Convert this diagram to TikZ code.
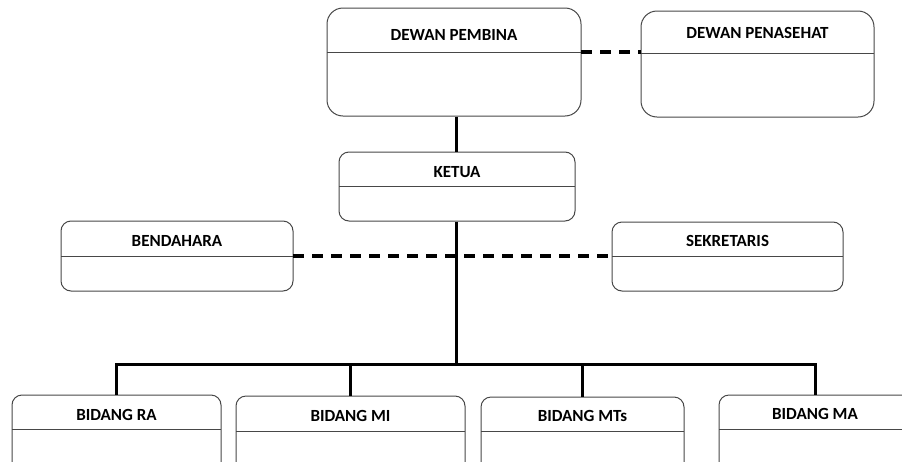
\documentclass[tikz,border=0pt]{standalone}
\usepackage{fontspec}
\setmainfont{Carlito}
% #1 extra style, #2 name, #3-#6 corners (x1,y1,x2,y2), #7 divider y, #8 title y, #9 title
\newcommand\orgbox[9]{%
  \pgfmathsetmacro\bw{#5-#3}%
  \pgfmathsetmacro\bh{#6-#4}%
  \node[box,#1,minimum width=\bw pt,minimum height=\bh pt] (#2) at ({(#3+#5)/2},{(#4+#6)/2}) {};
  \coordinate (#2-dl) at (#3,#7);
  \coordinate (#2-dr) at (#5,#7);
  \draw[divider] (#2-dl) -- (#2-dr);
  \node[title] (#2-t) at ({(#3+#5)/2},#8) {#9};
}
\begin{document}
\begin{tikzpicture}[x=1pt,y=-1pt,
  box/.style={draw=black!72,line width=1pt,rounded corners=10pt,inner sep=0pt,fill=white},
  bigbox/.style={rounded corners=16pt},
  divider/.style={draw=black!72,line width=1pt},
  title/.style={font=\bfseries\fontsize{17}{20}\selectfont,inner sep=0pt,anchor=center},
  link/.style={line width=3pt},
  dlink/.style={line width=3.2pt,dash pattern=on 11pt off 8pt}]
\useasboundingbox (0,0) rectangle (902,461);
\clip (0,0) rectangle (902,461);

% board boxes
\orgbox{bigbox}{pembina}{327}{8}{581}{116}{52}{35}{DEWAN PEMBINA}
\orgbox{bigbox}{penasehat}{641}{11}{874}{117}{53}{33}{DEWAN PENASEHAT}
% chair, treasurer, secretary
\orgbox{}{ketua}{339}{152}{575}{221}{186}{172}{KETUA}
\orgbox{}{bendahara}{61}{221}{293}{291}{256}{240.5}{BENDAHARA}
\orgbox{}{sekretaris}{612}{222}{843}{291}{256}{241}{SEKRETARIS}
% departments
\orgbox{}{ra}{12}{395}{221}{478}{429}{414.5}{BIDANG RA}
\orgbox{}{mi}{236}{396}{465}{478}{431}{416}{BIDANG MI}
\orgbox{}{mts}{481}{397}{684}{478}{431}{416}{BIDANG MTs}
\orgbox{}{ma}{719}{395}{911}{478}{429}{414}{BIDANG MA}

% connectors
\coordinate (bus) at (456,364);
\draw[dlink] (pembina-dr) -- (pembina-dr -| penasehat.west);
\draw[link] (pembina.south -| bus) -- (ketua.north -| bus);
\draw[dlink] (bendahara-dr) -- (sekretaris-dl);
\draw[link] (ketua.south -| bus) -- (bus);
\draw[link] (ra.north) |- (ma.north |- bus) -- (ma.north);
\draw[link] (mi.north) -- (mi.north |- bus);
\draw[link] (mts.north) -- (mts.north |- bus);
\end{tikzpicture}
\end{document}
